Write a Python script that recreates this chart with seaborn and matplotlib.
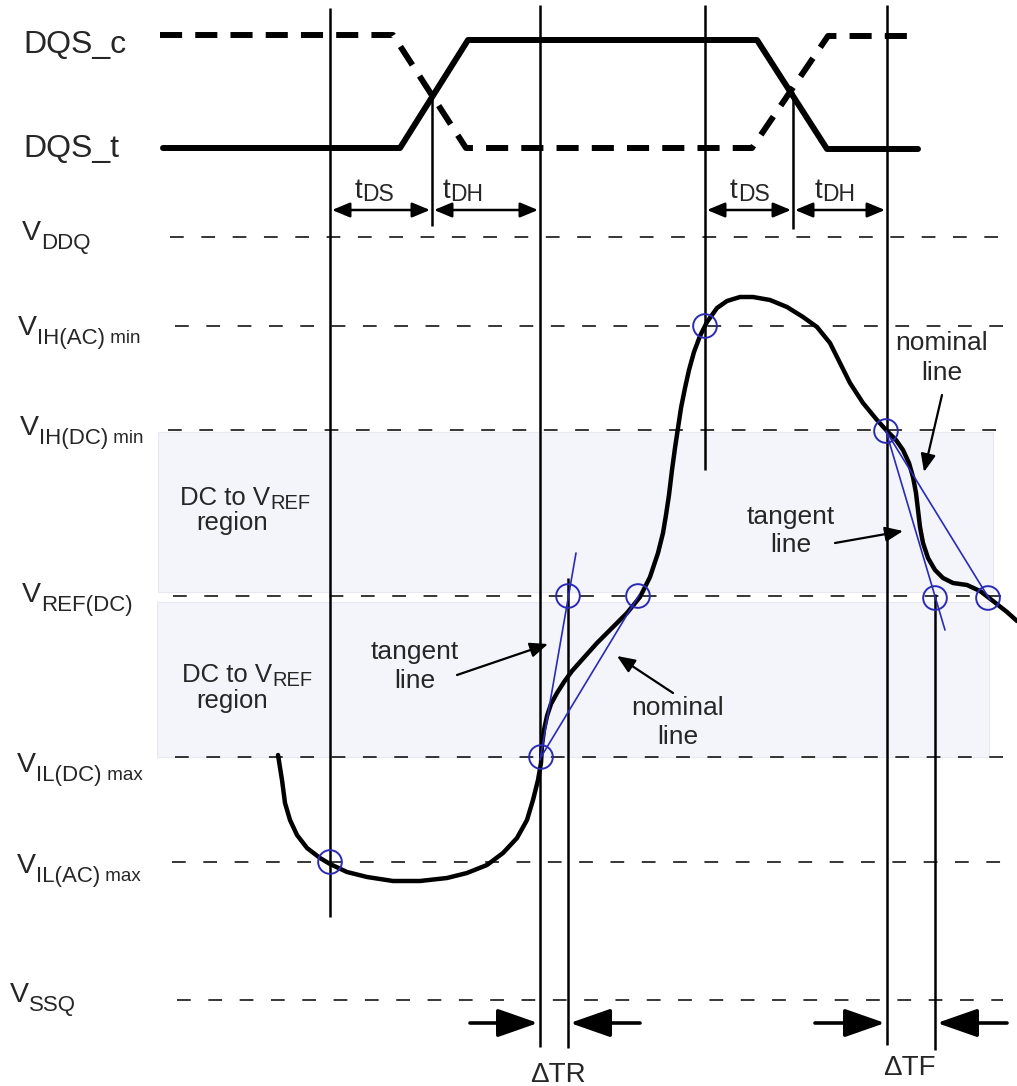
import numpy as np
import matplotlib
matplotlib.use('Agg')
import matplotlib.pyplot as plt
from matplotlib.patches import Rectangle
import seaborn as sns

sns.set_theme(style='white')
plt.rcParams['font.family'] = ['Liberation Sans', 'DejaVu Sans']

W, H = 1017, 1086
INK = '#262626'
BLUE = '#2a2ab4'

# reference levels (y in picture pixels)
level_subs = ['DDQ', 'IH(AC)', 'IH(DC)', 'REF(DC)', 'IL(DC)', 'IL(AC)', 'SSQ']
level_tail = ['', 'min', 'min', '', 'max', 'max', '']
level_y = [237, 326, 430, 596, 757, 862, 1000]
level_x0 = [170, 175, 168, 173, 175, 172, 177]
label_x = [22, 18, 20, 22, 17, 17, 10]
label_base = [240, 335, 435, 602, 772, 873, 1002]

# strobe signals
dqs_t_x = [163, 400, 468, 757, 827, 918]
dqs_t_y = [148, 148, 40, 40, 149, 149]
dqs_c_x = [160, 393, 466, 752, 828, 918]
dqs_c_y = [35, 35, 148, 148, 36, 36]

# data waveform
wave_x = [278, 282, 285, 290, 297, 307, 320, 330, 347, 367, 393, 420, 447, 467, 487,
          503, 517, 527, 533, 538, 541, 542, 544, 547, 551, 557, 564, 572, 580, 597,
          613, 627, 640, 650, 658, 663, 666, 669, 672, 675, 678, 681, 685, 689, 694,
          700, 707, 717, 727, 740, 753, 770, 787, 803, 817, 830, 840, 850, 863, 877,
          887, 896, 903, 909, 913, 916, 918, 920, 923, 928, 935, 943, 953, 967, 980,
          993, 1007, 1017]
wave_y = [755, 780, 803, 820, 835, 848, 858, 864, 872, 877, 881, 881, 878, 873, 865,
          853, 838, 820, 800, 780, 763, 745, 730, 716, 704, 693, 682, 671, 662, 643,
          627, 613, 597, 577, 553, 533, 515, 495, 470, 448, 428, 408, 388, 370, 352,
          336, 322, 308, 301, 297, 297, 300, 307, 317, 327, 343, 363, 383, 403, 420,
          431, 440, 450, 463, 477, 493, 510, 527, 543, 558, 570, 578, 583, 585, 591,
          601, 612, 621]

# timing markers
vline_x = [330, 432, 540, 705, 793, 887, 568, 935]
vline_top = [8, 95, 5, 5, 92, 5, 578, 594]
vline_bot = [917, 226, 1047, 470, 229, 1045, 1048, 1050]

# measurement points and slope lines
circle_x = [330, 541, 568, 638, 705, 886, 935, 988]
circle_y = [862, 757, 596, 596, 326, 431, 598, 598]
tangent_r = ([540, 576], [760, 553])
nominal_r = ([541, 639], [757, 595])
tangent_f = ([886, 945], [431, 630])
nominal_f = ([886, 990], [431, 600])

fig = plt.figure(figsize=(W / 100, H / 100), dpi=100)
ax = fig.add_axes([0, 0, 1, 1])
ax.set_xlim(0, W)
ax.set_ylim(H, 0)
ax.axis('off')
renderer = fig.canvas.get_renderer()


def rich(x, y, parts, color=INK):
    # parts: (text, fontsize, baseline shift)
    for s, size, dy in parts:
        t = ax.text(x, y + dy, s, fontsize=size, va='baseline', ha='left', color=color, zorder=10)
        x += t.get_window_extent(renderer).width


# DC to VREF shaded regions
ax.add_patch(Rectangle((158, 432), 835, 160, facecolor='#f4f5fb', edgecolor='#e6e8f2', lw=0.8, zorder=0))
ax.add_patch(Rectangle((157, 602), 832, 155, facecolor='#f4f5fb', edgecolor='#e6e8f2', lw=0.8, zorder=0))

# level lines and labels
for sub, tail, y, x0, lx, lb in zip(level_subs, level_tail, level_y, level_x0, label_x, label_base):
    ax.plot([x0, 1003], [y, y], color='black', lw=1.1, ls=(0, (9, 11.5)), zorder=1)
    parts = [('V', 20.5, 0), (sub, 16, 9)]
    if tail:
        parts.append((' ' + tail, 13.5, 8))
    rich(lx, lb, parts)

# strobes
sns.lineplot(x=dqs_t_x, y=dqs_t_y, sort=False, estimator=None, color='black', lw=4.3, ax=ax)
ax.plot(dqs_c_x, dqs_c_y, color='black', lw=4.3, ls=(0, (3.7, 2.2)), zorder=3)
ax.text(23, 53, 'DQS_c', fontsize=23, color=INK, va='baseline')
ax.text(23, 157, 'DQS_t', fontsize=23, color=INK, va='baseline')

# vertical timing lines
ax.vlines(vline_x, vline_top, vline_bot, color='black', lw=1.8, zorder=4)

# waveform
sns.lineplot(x=wave_x, y=wave_y, sort=False, estimator=None, color='black', lw=3.2, ax=ax, zorder=5)
ax.lines[-1].set_solid_joinstyle('round')

# slope lines
for xs, ys in [tangent_r, nominal_r, tangent_f, nominal_f]:
    ax.plot(xs, ys, color=BLUE, lw=1.2, zorder=6)
sns.scatterplot(x=circle_x, y=circle_y, s=290, marker='o', facecolors='none',
                edgecolor=BLUE, linewidth=1.4, ax=ax, zorder=7)

# tDS / tDH arrows
dbl = dict(arrowstyle='<|-|>,head_length=0.6,head_width=0.25', color='black', lw=1.8,
           mutation_scale=18, shrinkA=0, shrinkB=0)
for xa, xb in [(332, 430), (434, 538), (707, 791), (795, 885)]:
    ax.annotate('', xy=(xb, 210), xytext=(xa, 210), arrowprops=dbl)
for x, sub in [(355, 'DS'), (443, 'DH'), (730, 'DS'), (815, 'DH')]:
    rich(x, 198, [('t', 20, 0), (sub, 16.5, 3)])

# annotation labels
pointer = dict(arrowstyle='-|>,head_length=0.6,head_width=0.25', color='black', lw=1.6,
               mutation_scale=18, shrinkA=0, shrinkB=0)
notes = [('tangent', 415, 652, 681, (457, 675), (548, 644)),
         ('nominal', 678, 708, 737, (673, 693), (617, 656)),
         ('nominal', 942, 343, 373, (942, 395), (924, 472)),
         ('tangent', 791, 517, 545, (835, 543), (903, 531))]
for word, x, y1, y2, tail, head in notes:
    ax.text(x, y1, word, fontsize=19, color=INK, ha='center', va='center', zorder=10)
    ax.text(x, y2, 'line', fontsize=19, color=INK, ha='center', va='center', zorder=10)
    ax.annotate('', xy=head, xytext=tail, arrowprops=pointer, zorder=9)

for x, base, rbase in [(180, 505, 530), (182, 682, 708)]:
    rich(x, base, [('DC to V', 18.5, 0), ('REF', 14.5, 4)])
    ax.text(232, rbase, 'region', fontsize=18.5, color=INK, ha='center', va='baseline')

# delta-T arrows
big = dict(arrowstyle='-|>,head_length=1.0,head_width=0.35', color='black', lw=2.6,
           mutation_scale=25, shrinkA=0, shrinkB=0)
for xa, xb in [(470, 538), (640, 570), (815, 885), (1007, 937)]:
    ax.annotate('', xy=(xb, 1023), xytext=(xa, 1023), arrowprops=big)
ax.text(558, 1082, 'ΔTR', fontsize=20, color=INK, ha='center', va='baseline')
ax.text(909, 1075, 'ΔTF', fontsize=20, color=INK, ha='center', va='baseline')

fig.savefig('out.png', dpi=100, facecolor='white')
